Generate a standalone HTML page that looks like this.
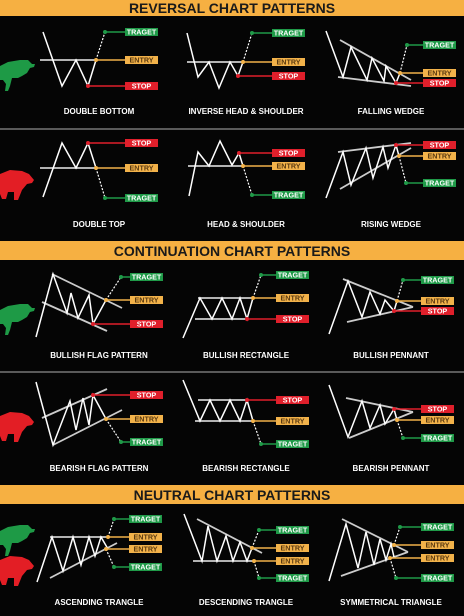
<!DOCTYPE html>
<html><head><meta charset="utf-8"><style>
html,body{margin:0;padding:0;background:#050505;}
svg{display:block;font-family:"Liberation Sans",sans-serif;}
</style></head><body>
<svg id="s" width="464" height="616" viewBox="0 0 464 616">
<rect width="464" height="616" fill="#050505"/>
<rect x="0" y="0" width="464" height="16" fill="#f6b042"/>
<text x="232" y="13" text-anchor="middle" font-size="14" font-weight="bold" fill="#1a1a1a">REVERSAL CHART PATTERNS</text>
<rect x="0" y="241" width="464" height="19" fill="#f6b042"/>
<text x="232" y="256" text-anchor="middle" font-size="14" font-weight="bold" fill="#1a1a1a">CONTINUATION CHART PATTERNS</text>
<rect x="0" y="485" width="464" height="19" fill="#f6b042"/>
<text x="232" y="500" text-anchor="middle" font-size="14" font-weight="bold" fill="#1a1a1a">NEUTRAL CHART PATTERNS</text>
<line x1="0" y1="129" x2="464" y2="129" stroke="#777" stroke-width="1.5"/>
<line x1="0" y1="372" x2="464" y2="372" stroke="#777" stroke-width="1.5"/>
<g id="g"></g>
</svg>
<script>
const NS='http://www.w3.org/2000/svg';
const G=document.getElementById('g');
function el(tag,attrs,name){const e=document.createElementNS(NS,tag);for(const k in attrs)e.setAttribute(k,attrs[k]);


G.appendChild(e);return e;}
const COL={TRAGET:'#1f9a48',ENTRY:'#f2b24a',STOP:'#e01f2b'};
function poly(pts,name){el('polyline',{points:pts.map(p=>p.join(',')).join(' '),fill:'none',stroke:'#fff','stroke-width':1.5,'stroke-linejoin':'miter'},name);}
function ln(a,b,name,col,w){el('line',{x1:a[0],y1:a[1],x2:b[0],y2:b[1],stroke:col||'#ccc','stroke-width':w||1.8},name);}
function dash(a,b,name){el('line',{x1:a[0],y1:a[1],x2:b[0],y2:b[1],stroke:'#fff','stroke-width':1.2,'stroke-dasharray':'2,1.5'},name);}
function lab(dot,lx,text,name){const c=COL[text];const y=dot[1];
ln(dot,[lx,y],name+'-line',c,1.5);
el('circle',{cx:dot[0],cy:y,r:2,fill:c},name+'-dot');
el('rect',{x:lx,y:y-4,width:33,height:8,fill:c},name+'-tag');
const t=el('text',{x:lx+16.5,y:y+2.6,'text-anchor':'middle','font-size':7.2,'font-weight':'bold',fill:text==='ENTRY'?'#5a3a10':'#fff'},name+'-text');t.textContent=text;}
function title(x,y,text,name){const t=el('text',{x:x,y:y,'text-anchor':'middle','font-size':8,'font-weight':'bold',fill:'#fff'},name);t.textContent=text;}

// Row 1
ln([40,60],[96,60],'double-bottom-neckline');
poly([[43,32],[62,86],[76,60],[88,86],[96,60]],'double-bottom-price');
dash([96,60],[105,32],'double-bottom-breakout');
lab([105,32],125,'TRAGET','double-bottom-target');lab([96,60],125,'ENTRY','double-bottom-entry');lab([88,86],125,'STOP','double-bottom-stop');
title(99,114,'DOUBLE BOTTOM','double-bottom-title');

ln([187,62],[243,62],'inverse-hs-neckline');
poly([[187,33],[198,77],[209,62],[219,88],[230,62],[238,76],[243,62]],'inverse-hs-price');
dash([243,62],[252,33],'inverse-hs-breakout');
lab([252,33],272,'TRAGET','inverse-hs-target');lab([243,62],272,'ENTRY','inverse-hs-entry');lab([238,76],272,'STOP','inverse-hs-stop');
title(246,114,'INVERSE HEAD & SHOULDER','inverse-hs-title');

ln([340,40],[411,80],'falling-wedge-upper');ln([338,77],[411,86],'falling-wedge-lower');
poly([[326,31],[343,77],[351,47],[367,80],[372,58],[384,81],[386,66],[396,83],[400,73]],'falling-wedge-price');
dash([400,73],[407,45],'falling-wedge-breakout');
lab([407,45],423,'TRAGET','falling-wedge-target');lab([400,73],423,'ENTRY','falling-wedge-entry');lab([396,83],423,'STOP','falling-wedge-stop');
title(391,114,'FALLING WEDGE','falling-wedge-title');

// Row 2
ln([40,168],[96,168],'double-top-neckline');
poly([[43,197],[62,143],[76,168],[88,143],[96,168]],'double-top-price');
dash([96,168],[105,198],'double-top-breakdown');
lab([88,143],125,'STOP','double-top-stop');lab([96,168],125,'ENTRY','double-top-entry');lab([105,198],125,'TRAGET','double-top-target');
title(99,227,'DOUBLE TOP','double-top-title');

ln([188,166],[243,166],'hs-neckline');
poly([[189,196],[198,152],[209,166],[220,141],[232,165],[239,153],[243,166]],'hs-price');
dash([243,166],[252,195],'hs-breakdown');
lab([239,153],272,'STOP','hs-stop');lab([243,166],272,'ENTRY','hs-entry');lab([252,195],272,'TRAGET','hs-target');
title(246,227,'HEAD & SHOULDER','hs-title');

ln([338,152],[411,143],'rising-wedge-upper');ln([340,189],[411,148],'rising-wedge-lower');
poly([[326,198],[343,152],[351,185],[366,148],[373,178],[383,147],[388,168],[396,145],[399,156]],'rising-wedge-price');
dash([399,156],[406,183],'rising-wedge-breakdown');
lab([396,145],423,'STOP','rising-wedge-stop');lab([399,156],423,'ENTRY','rising-wedge-entry');lab([406,183],423,'TRAGET','rising-wedge-target');
title(391,227,'RISING WEDGE','rising-wedge-title');

// Row 3
ln([52,274],[122,308],'bull-flag-upper');ln([42,302],[107,331],'bull-flag-lower');
poly([[36,337],[53,274],[67,313],[71,293],[78,318],[89,295],[93,324],[106,300]],'bull-flag-price');
dash([106,300],[121,277],'bull-flag-breakout');
lab([121,277],130,'TRAGET','bull-flag-target');lab([106,300],130,'ENTRY','bull-flag-entry');lab([93,324],130,'STOP','bull-flag-stop');
title(99,358,'BULLISH FLAG PATTERN','bull-flag-title');

ln([198,298],[253,298],'bull-rect-top');ln([195,319],[247,319],'bull-rect-bottom');
poly([[183,338],[200,298],[212,319],[222,298],[232,319],[240,298],[247,319],[253,298]],'bull-rect-price');
dash([253,298],[261,275],'bull-rect-breakout');
lab([261,275],276,'TRAGET','bull-rect-target');lab([253,298],276,'ENTRY','bull-rect-entry');lab([247,319],276,'STOP','bull-rect-stop');
title(246,358,'BULLISH RECTANGLE','bull-rect-title');

ln([343,279],[413,307],'bull-pennant-upper');ln([347,322],[413,307],'bull-pennant-lower');
poly([[329,334],[348,281],[362,317],[370,292],[380,314],[385,300],[394,311],[397,301]],'bull-pennant-price');
dash([397,301],[403,280],'bull-pennant-breakout');
lab([403,280],421,'TRAGET','bull-pennant-target');lab([397,301],421,'ENTRY','bull-pennant-entry');lab([394,311],421,'STOP','bull-pennant-stop');
title(391,358,'BULLISH PENNANT','bull-pennant-title');

// Row 4
ln([42,418],[107,389],'bear-flag-upper');ln([53,445],[122,410],'bear-flag-lower');
poly([[36,382],[53,445],[70,401],[76,430],[83,398],[89,425],[93,395],[106,419]],'bear-flag-price');
dash([106,419],[121,442],'bear-flag-breakdown');
lab([93,395],130,'STOP','bear-flag-stop');lab([106,419],130,'ENTRY','bear-flag-entry');lab([121,442],130,'TRAGET','bear-flag-target');
title(99,471,'BEARISH FLAG PATTERN','bear-flag-title');

ln([198,400],[247,400],'bear-rect-top');ln([195,421],[253,421],'bear-rect-bottom');
poly([[183,380],[200,421],[210,400],[220,421],[230,400],[240,421],[247,400],[253,421]],'bear-rect-price');
dash([253,421],[261,444],'bear-rect-breakdown');
lab([247,400],276,'STOP','bear-rect-stop');lab([253,421],276,'ENTRY','bear-rect-entry');lab([261,444],276,'TRAGET','bear-rect-target');
title(246,471,'BEARISH RECTANGLE','bear-rect-title');

ln([346,398],[413,412],'bear-pennant-upper');ln([349,438],[413,412],'bear-pennant-lower');
poly([[329,385],[348,437],[362,401],[370,428],[380,405],[385,424],[394,409],[397,420]],'bear-pennant-price');
dash([397,420],[403,438],'bear-pennant-breakdown');
lab([394,409],421,'STOP','bear-pennant-stop');lab([397,420],421,'ENTRY','bear-pennant-entry');lab([403,438],421,'TRAGET','bear-pennant-target');
title(391,471,'BEARISH PENNANT','bear-pennant-title');

// Row 5
ln([50,537],[110,537],'asc-tri-top');ln([50,578],[117,543],'asc-tri-lower');
poly([[37,582],[52,537],[63,571],[73,537],[81,565],[89,537],[95,556],[101,537],[108,549]],'asc-tri-price');
dash([108,537],[114,519],'asc-tri-breakout');dash([106,549],[114,567],'asc-tri-breakdown');
lab([114,519],129,'TRAGET','asc-tri-target-up');lab([108,537],129,'ENTRY','asc-tri-entry-up');lab([106,549],129,'ENTRY','asc-tri-entry-down');lab([114,567],129,'TRAGET','asc-tri-target-down');
title(99,605,'ASCENDING TRANGLE','asc-tri-title');

ln([197,519],[262,553],'desc-tri-upper');ln([193,561],[255,561],'desc-tri-bottom');
poly([[184,514],[202,561],[208,526],[217,561],[226,536],[233,561],[240,542],[247,561],[252,548]],'desc-tri-price');
dash([252,548],[259,530],'desc-tri-breakout');dash([254,561],[259,578],'desc-tri-breakdown');
lab([259,530],276,'TRAGET','desc-tri-target-up');lab([252,548],276,'ENTRY','desc-tri-entry-up');lab([254,561],276,'ENTRY','desc-tri-entry-down');lab([259,578],276,'TRAGET','desc-tri-target-down');
title(246,605,'DESCENDING TRANGLE','desc-tri-title');

ln([342,519],[408,552],'sym-tri-upper');ln([341,576],[408,552],'sym-tri-lower');
poly([[329,581],[346,524],[358,568],[366,532],[374,565],[380,539],[386,560],[391,544],[394,557]],'sym-tri-price');
dash([394,545],[400,527],'sym-tri-breakout');dash([390,558],[396,578],'sym-tri-breakdown');
lab([400,527],421,'TRAGET','sym-tri-target-up');lab([394,545],421,'ENTRY','sym-tri-entry-up');lab([390,558],421,'ENTRY','sym-tri-entry-down');lab([396,578],421,'TRAGET','sym-tri-target-down');
title(391,605,'SYMMETRICAL TRIANGLE','sym-tri-title');

// Bull & bear silhouettes
const bull='M0,66 L8,62 L20,60 L28,60 L32,64 L35,64 L34,67 L30,68 L27,73 L22,76 L18,78 L12,78 L10,86 L8,91 L5,91 L6,84 L3,80 L0,80 Z';
const bear='M0,174 L10,170 L22,171 L29,174 L34,180 L32,183 L27,184 L22,190 L18,200 L14,200 L14,192 L8,192 L6,199 L2,199 L0,194 Z';
function shape(d,dy,c,name){el('path',{d:d,fill:c,transform:'translate(0,'+dy+')'},name);}
shape(bull,0,'#1e9a46','bull-icon-reversal');
shape(bear,0,'#e31e25','bear-icon-reversal');
shape(bull,244,'#1e9a46','bull-icon-continuation');
shape(bear,242,'#e31e25','bear-icon-continuation');
shape(bull,465,'#1e9a46','bull-icon-neutral');
shape(bear,386,'#e31e25','bear-icon-neutral');
</script>
</body></html>
